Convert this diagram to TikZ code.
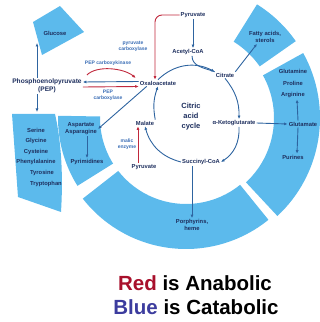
\documentclass[tikz,border=0pt]{standalone}
\usepackage{fontspec}
\setmainfont{Liberation Sans}
\usetikzlibrary{arrows.meta}
\definecolor{ringblue}{HTML}{5CBAEC}
\definecolor{navytxt}{HTML}{1E2F5E}
\definecolor{enztxt}{HTML}{3A6DB5}
\definecolor{arrblue}{HTML}{2E64A0}
\definecolor{arrred}{HTML}{C0283C}
\definecolor{anared}{HTML}{A8102C}
\definecolor{catblue}{HTML}{3C3C9E}
\begin{document}
\begin{tikzpicture}[x=1pt,y=1pt,
    ringpart/.style={fill=ringblue},
    lbl/.style={font=\bfseries\fontsize{5.8}{7}\selectfont, text=navytxt, inner sep=1pt, align=center},
    enz/.style={font=\bfseries\fontsize{5}{6}\selectfont, text=enztxt, inner sep=1pt, align=center},
    flow/.style={draw=arrblue, line width=0.9pt, -{Latex[length=3.5pt,width=3pt]}},
    redflow/.style={flow, draw=arrred},
    legendtxt/.style={font=\bfseries\fontsize{20.5}{24}\selectfont, inner sep=0pt}]
\useasboundingbox (0,0) rectangle (320,322);
\coordinate (C) at (186,204);
% pieces of the ring
\foreach \a/\b/\ri/\ro in {35/58/90/134, -47/29/88/134, -142/-51/86/131, 179/212/86/128}
{
    \fill[ringpart, shift={(C)}] (\a:\ri) arc[start angle=\a, end angle=\b, radius=\ri]
        -- (\b:\ro) arc[start angle=\b, end angle=\a, radius=\ro] -- cycle;
}
\fill[ringpart] (33,300) -- (60,316) -- (84,290) -- (42,267) -- cycle;
\fill[ringpart] (12,208) -- (55,208) .. controls (62,177) and (63,142) .. (61,110) -- (18,125) -- cycle;

% compounds
\node[lbl] (glu) at (55,289) {Glucose};
\node[lbl, font=\bfseries\fontsize{6.6}{7.5}\selectfont] (pep) at (47,236) {Phosphoenolpyruvate\\(PEP)};
\node[lbl] (oaa) at (158,239) {Oxaloacetate};
\node[lbl] (pyr1) at (193,307) {Pyruvate};
\node[lbl] (acoa) at (188,270) {Acetyl-CoA};
\node[lbl] (cit) at (225,247) {Citrate};
\node[lbl] (akg) at (234,199) {α-Ketoglutarate};
\node[lbl] (suc) at (201,160) {Succinyl-CoA};
\node[lbl] (mal) at (145,199) {Malate};
\node[lbl] (pyr2) at (144,155) {Pyruvate};
\node[lbl, font=\bfseries\fontsize{7.5}{10}\selectfont] (tca) at (191,205) {Citric\\acid\\cycle};
\node[lbl] (asp) at (81,193) {Aspartate\\Asparagine};
\node[lbl] (pyrim) at (87,160) {Pyrimidines};
\foreach \nm/\x/\y in {Serine/36/192, Glycine/36/181, Cysteine/36/170, Phenylalanine/36/160, Tyrosine/42/149, Tryptophan/46/138}
{
    \node[lbl] (aa\nm) at (\x,\y) {\nm};
}
\node[lbl] (fat) at (265,285) {Fatty acids,\\sterols};
\node[lbl, font=\bfseries\fontsize{5.8}{11.5}\selectfont] (gln) at (293,238) {Glutamine\\Proline\\Arginine};
\node[lbl] (glt) at (303,198) {Glutamate};
\node[lbl] (pur) at (293,165) {Purines};
\node[lbl] (por) at (192,97) {Porphyrins,\\heme};

% enzymes
\node[enz] (pc) at (133,276) {pyruvate\\carboxylase};
\node[enz] (pepck) at (108,259) {PEP carboxykinase};
\node[enz] (pepc) at (108,227) {PEP\\carboxylase};
\node[enz] (me) at (127,178) {malic\\enzyme};

\coordinate (gluin) at (37,279);
\coordinate (aain) at (37,210);

% arrows
\draw[flow] ([xshift=-10pt]pep.north) -- (gluin);
\draw[flow] ([xshift=-10pt]pep.south) -- (aain);
\draw[flow] ([yshift=1.5pt]oaa.west) -- ([yshift=4pt]pep.east);
\draw[redflow] ([yshift=-1pt]pep.east) -- ([yshift=-3.5pt]oaa.west);
\draw[redflow] ([xshift=4pt,yshift=11pt]pep.east) .. controls +(10,10) and +(-12,10) .. ([xshift=-3pt,yshift=5pt]oaa.west);
\draw[redflow, rounded corners=7pt] (pyr1.west) -| ([xshift=-3pt]oaa.north);
\draw[flow] (pyr1.south) -- (pyr1.south |- acoa.north);
\draw[flow] (oaa.north) to[bend left=36] (cit.north west);
\draw[draw=arrblue, line width=0.9pt] ([xshift=4pt]acoa.south) to[out=-90, in=160] (cit.north west);
\draw[flow] (cit.south) to[bend left=20] ([xshift=5pt]akg.north);
\draw[flow] ([xshift=5pt]akg.south) to[bend left=30] (suc.east);
\draw[flow] (suc.west) to[bend left=30] (mal.south);
\draw[flow] (mal.north east) to[bend left=15] (oaa.south);
\draw[flow] ([xshift=8pt]oaa.south west) -- (asp.east);
\draw[flow] (pyrim.north |- asp.south) -- (pyrim.north);
\draw[redflow] ([xshift=-6pt]pyr2.north) -- ([xshift=-7pt]mal.south);
\draw[flow] (cit.north east) -- ([xshift=-8pt]fat.south);
\draw[flow] (akg.east) -- (glt.west);
\draw[flow] ([xshift=-5pt]glt.north) -- ([xshift=4pt]gln.south);
\draw[flow] ([xshift=-5pt]glt.south) -- ([xshift=4pt]pur.north);
\draw[flow] (por.north |- suc.south) -- (por.north);

% legend
\node[legendtxt] (anab) at (195,39) {\textcolor{anared}{Red} is Anabolic};
\node[legendtxt] (catab) at (196,15) {\textcolor{catblue}{Blue} is Catabolic};
\end{tikzpicture}
\end{document}
